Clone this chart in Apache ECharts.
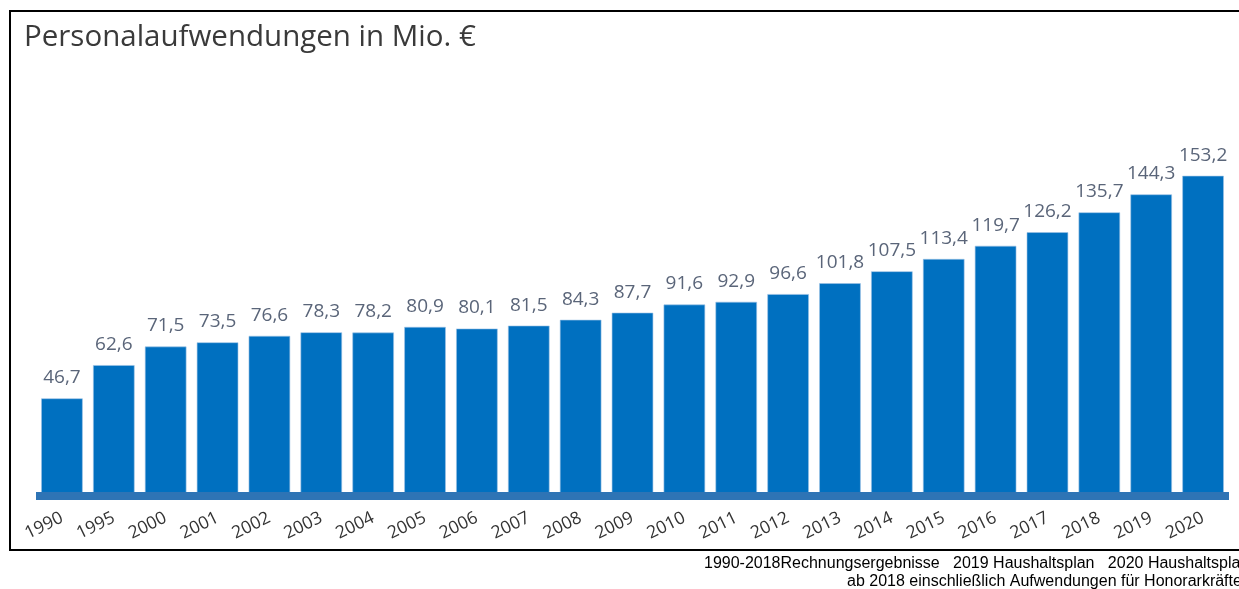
<!DOCTYPE html>
<html>
<head>
<meta charset="utf-8">
<script src="https://cdn.jsdelivr.net/npm/echarts@6/dist/echarts.min.js"></script>
<style>
html,body{margin:0;padding:0;background:#fff;}
#chart{width:1239px;height:589px;}
</style>
</head>
<body>
<div id="chart"></div>
<script>
const categories = ['1990','1995','2000','2001','2002','2003','2004','2005','2006','2007','2008','2009','2010','2011','2012','2013','2014','2015','2016','2017','2018','2019','2020'];
const values = [46.7,62.6,71.5,73.5,76.6,78.3,78.2,80.9,80.1,81.5,84.3,87.7,91.6,92.9,96.6,101.8,107.5,113.4,119.7,126.2,135.7,144.3,153.2];
const titleText = 'Personalaufwendungen in Mio. €';
const footLine1 = '1990-2018Rechnungsergebnisse   2019 Haushaltsplan   2020 Haushaltsplan';
const footLine2 = 'ab 2018 einschließlich Aufwendungen für Honorarkräfte';

const chart = echarts.init(document.getElementById('chart'), null, {renderer:'canvas'});
chart.setOption({
  animation:false,
  backgroundColor:'#fff',
  title:{
    text:titleText, left:19, top:18,
    textStyle:{fontFamily:'Open Sans', fontSize:29.5, fontWeight:'normal', color:'#3a3a3a'}
  },
  grid:{left:36, right:10, top:78, bottom:93},
  xAxis:{
    type:'category', data:categories, z:10,
    axisLine:{lineStyle:{color:'#2E74B5', width:8, cap:'butt'}},
    axisTick:{show:false},
    axisLabel:{interval:0, hideOverlap:false, rotate:26, margin:21, fontFamily:'Open Sans', fontSize:17.5, color:'#333'}
  },
  yAxis:{type:'value', min:0, max:200, show:false, splitLine:{show:false}},
  series:[{
    type:'bar', data:values, barWidth:'80%',
    itemStyle:{color:'#0070C0', borderColor:'#9DC3E6', borderWidth:0.6},
    label:{show:true, position:'top', distance:11, fontFamily:'Open Sans', fontSize:19, color:'#5a6579',
      formatter:p=>String(p.value).replace('.',',')}
  }],
  graphic:[
    {type:'rect', shape:{x:10, y:11, width:1260, height:539}, style:{fill:null, stroke:'#000', lineWidth:2}, silent:true, z:-1},
    {type:'text', left:704, top:556, style:{text:footLine1, font:'16px "Liberation Sans", Arial, sans-serif', fill:'#000'}},
    {type:'text', left:847, top:574, style:{text:footLine2, font:'16px "Liberation Sans", Arial, sans-serif', fill:'#000'}}
  ]
});
</script>
</body>
</html>
